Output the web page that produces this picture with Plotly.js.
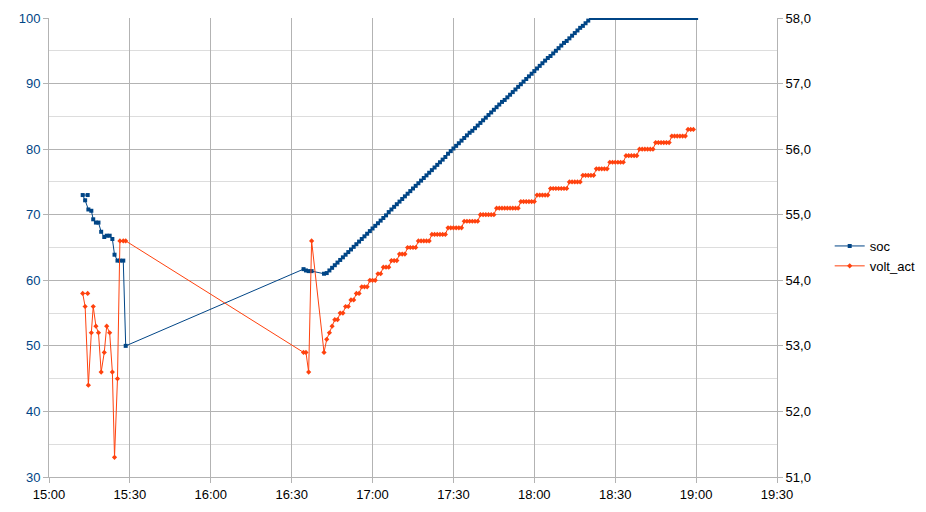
<!DOCTYPE html>
<html>
<head>
<meta charset="utf-8">
<script src="https://cdn.plot.ly/plotly-3.0.1.min.js"></script>
<style>html,body{margin:0;padding:0;background:#fff;}#chart{width:926px;height:512px;}</style>
</head>
<body>
<div id="chart"></div>
<script>
// Sample times (HH:MM[:SS]) on one day
const dayDate = '2024-01-01';
const timeEarly = ['15:14:21','15:12:30','15:13:24','15:14:36','15:15:42','15:16:24','15:17:24','15:18:21','15:19:21','15:20:30','15:21:24','15:22:30','15:23:30','15:24:18','15:25:24','15:26:18','15:27:33','15:28:27'];
const timeGap = ['16:34:24','16:35:18','16:36:18','16:37:24'];
const timeRamp = [
'16:42','16:43','16:44','16:45','16:46','16:47','16:48','16:49','16:50','16:51','16:52','16:53','16:54','16:55','16:56','16:57','16:58','16:59',
'17:00','17:01','17:02','17:03','17:04','17:05','17:06','17:07','17:08','17:09','17:10','17:11','17:12','17:13','17:14','17:15','17:16','17:17','17:18','17:19',
'17:20','17:21','17:22','17:23','17:24','17:25','17:26','17:27','17:28','17:29','17:30','17:31','17:32','17:33','17:34','17:35','17:36','17:37','17:38','17:39',
'17:40','17:41','17:42','17:43','17:44','17:45','17:46','17:47','17:48','17:49','17:50','17:51','17:52','17:53','17:54','17:55','17:56','17:57','17:58','17:59',
'18:00','18:01','18:02','18:03','18:04','18:05','18:06','18:07','18:08','18:09','18:10','18:11','18:12','18:13','18:14','18:15','18:16','18:17','18:18','18:19',
'18:20','18:21','18:22','18:23','18:24','18:25','18:26','18:27','18:28','18:29','18:30','18:31','18:32','18:33','18:34','18:35','18:36','18:37','18:38','18:39',
'18:40','18:41','18:42','18:43','18:44','18:45','18:46','18:47','18:48','18:49','18:50','18:51','18:52','18:53','18:54','18:55','18:56','18:57','18:58','18:59',
'19:00'];

// soc (%) – left axis
const socEarly = [73.0,73.0,72.2,70.8,70.6,69.3,68.8,68.8,67.4,66.6,66.8,66.8,66.3,63.9,63.0,63.0,63.0,50.0];
const socGap = [61.7,61.5,61.4,61.4];
const socRamp = [
61.0,61.1,61.5,61.9,62.3,62.7,63.1,63.5,63.9,64.3,
64.7,65.1,65.5,65.9,66.3,66.7,67.1,67.5,67.9,68.3,
68.7,69.1,69.5,69.9,70.4,70.8,71.2,71.6,72.0,72.4,
72.8,73.2,73.6,74.0,74.4,74.8,75.2,75.6,76.0,76.4,
76.8,77.2,77.6,78.0,78.4,78.8,79.3,79.7,80.1,80.5,
80.9,81.3,81.7,82.1,82.5,82.8,83.2,83.6,84.0,84.4,
84.8,85.2,85.6,86.0,86.4,86.8,87.2,87.5,87.9,88.3,
88.7,89.1,89.5,89.9,90.3,90.7,91.1,91.5,91.9,92.3,
92.7,93.1,93.5,93.9,94.2,94.6,95.0,95.4,95.8,96.2,
96.5,96.9,97.3,97.7,98.1,98.5,98.8,99.2,99.6,100,
100,100,100,100,100,100,100,100,100,100,
100,100,100,100,100,100,100,100,100,100,
100,100,100,100,100,100,100,100,100,100,
100,100,100,100,100,100,100,100,100];

// volt_act (V) – right axis
const voltEarly = [53.8,53.8,53.6,52.4,53.2,53.6,53.3,53.2,52.6,52.9,53.3,53.2,52.6,51.3,52.5,54.6,54.6,54.6];
const voltGap = [52.9,52.9,52.6,54.6];
const voltRamp = [
52.9,53.1,53.2,53.3,53.4,53.4,53.5,53.5,53.6,53.6,
53.7,53.7,53.8,53.8,53.9,53.9,53.9,54.0,54.0,54.0,
54.1,54.1,54.2,54.2,54.2,54.3,54.3,54.3,54.4,54.4,
54.4,54.5,54.5,54.5,54.5,54.6,54.6,54.6,54.6,54.6,
54.7,54.7,54.7,54.7,54.7,54.7,54.8,54.8,54.8,54.8,
54.8,54.8,54.9,54.9,54.9,54.9,54.9,54.9,55.0,55.0,
55.0,55.0,55.0,55.0,55.1,55.1,55.1,55.1,55.1,55.1,
55.1,55.1,55.1,55.2,55.2,55.2,55.2,55.2,55.2,55.3,
55.3,55.3,55.3,55.3,55.4,55.4,55.4,55.4,55.4,55.4,
55.4,55.5,55.5,55.5,55.5,55.5,55.6,55.6,55.6,55.6,
55.6,55.7,55.7,55.7,55.7,55.7,55.8,55.8,55.8,55.8,
55.8,55.8,55.9,55.9,55.9,55.9,55.9,56.0,56.0,56.0,
56.0,56.0,56.0,56.1,56.1,56.1,56.1,56.1,56.1,56.2,
56.2,56.2,56.2,56.2,56.2,56.3,56.3,56.3];

const xTimes = timeEarly.concat(timeGap, timeRamp).map(t => dayDate + ' ' + t);
const socAll = socEarly.concat(socGap, socRamp);
const voltAll = voltEarly.concat(voltGap, voltRamp);

const blue = '#004586', orange = '#ff420e', grid = '#b3b3b3', minorGrid = '#dddddd';
const font = {family: '"Liberation Sans", Arial, sans-serif', size: 13, color: '#000'};

const traces = [
  {x: xTimes, y: socAll, name: 'soc', type: 'scatter', mode: 'lines+markers',
   line: {color: blue, width: 1}, marker: {symbol: 'square', size: 4, color: blue}, yaxis: 'y'},
  {x: xTimes, y: voltAll, name: 'volt_act', type: 'scatter', mode: 'lines+markers',
   line: {color: orange, width: 1}, marker: {symbol: 'diamond', size: 4, color: orange}, yaxis: 'y2'}
];

const layout = {
  width: 926, height: 512,
  margin: {l: 49, r: 149, t: 18, b: 35, autoexpand: false},
  paper_bgcolor: '#fff', plot_bgcolor: '#fff',
  font: font,
  separators: ',.',
  showlegend: true,
  hovermode: false,
  legend: {xref: 'container', yref: 'container', x: 0.896, xanchor: 'left', y: 0.5, yanchor: 'middle',
           font: font, bgcolor: 'rgba(0,0,0,0)', tracegroupgap: 0},
  xaxis: {
    type: 'date',
    range: [dayDate + ' 15:00', dayDate + ' 19:30'],
    dtick: 30 * 60 * 1000, tick0: dayDate + ' 15:00',
    tickformat: '%H:%M',
    showgrid: true, gridcolor: grid, gridwidth: 1,
    showline: true, linecolor: grid, linewidth: 1,
    ticks: 'outside', ticklen: 5, tickcolor: grid,
    zeroline: false, tickfont: font
  },
  yaxis: {
    range: [30, 100], dtick: 10, tick0: 0,
    showgrid: true, gridcolor: grid, gridwidth: 1,
    minor: {dtick: 5, showgrid: true, gridcolor: minorGrid, ticks: ''},
    showline: true, linecolor: grid, linewidth: 1,
    ticks: 'outside', ticklen: 5, tickcolor: grid,
    zeroline: false, tickfont: Object.assign({}, font, {color: blue})
  },
  yaxis2: {
    range: [51, 58], dtick: 1, tick0: 0, overlaying: 'y', side: 'right',
    tickformat: '.1f',
    showgrid: false,
    showline: true, linecolor: grid, linewidth: 1,
    ticks: 'outside', ticklen: 5, tickcolor: grid,
    zeroline: false, tickfont: font
  }
};

Plotly.newPlot('chart', traces, layout, {displayModeBar: false, staticPlot: true});
</script>
</body>
</html>
